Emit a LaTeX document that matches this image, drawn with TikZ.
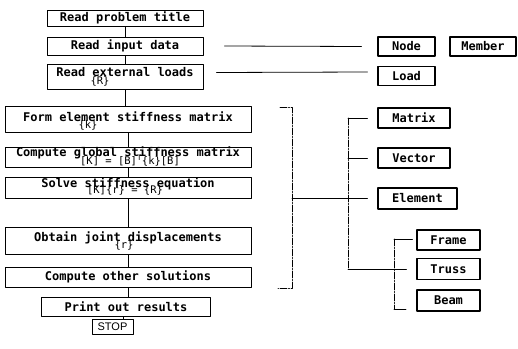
\documentclass[tikz,border=0pt]{standalone}
\usepackage{fontspec}
\setmonofont{DejaVu Sans Mono}
\newfontfamily\stopfont{Liberation Sans}
\usetikzlibrary{positioning}

\begin{document}
\begin{tikzpicture}[x=1pt, y=-1pt, line cap=round, line join=round, font=\ttfamily\bfseries\fontsize{12}{14}\selectfont, line width=0.8pt]
	\tikzset{box/.style={draw, inner xsep=0pt, inner ysep=0pt},
		tall/.style 2 args={text height=#1, text depth=#2},
		frm/.style={inner sep=0pt, font=\ttfamily\fontsize{10.5}{11}\selectfont},
		item/.style={draw, line width=1.1pt, inner sep=0pt, minimum height=19},
		dd/.style={dash pattern=on 7pt off 1.5pt on 1pt off 1.5pt}}
	\useasboundingbox (0,0) rectangle (518,348);
	% main flow
	\node[box, minimum width=156, minimum height=16] (title) at (125,18) {Read problem title};
	\node[box, minimum width=156, minimum height=18] (input) at (125,46) {Read input data};
	\node[box, minimum width=156, tall={12.5}{12.5}] (loads) at (125,76.5) {Read external loads};
	\node[box, minimum width=246, tall={15.5}{10.5}] (elstiff) at (128,119) {Form element stiffness matrix};
	\node[box, minimum width=246, tall={9.5}{10.5}] (glstiff) at (128,157) {Compute global stiffness matrix};
	\node[box, minimum width=246, tall={10.5}{10.5}] (solve) at (128,187.5) {Solve stiffness equation};
	\node[box, minimum width=246, tall={14.5}{12.5}] (disp) at (128,240.5) {Obtain joint displacements};
	\node[box, minimum width=246, minimum height=20] (other) at (128,277) {Compute other solutions};
	\node[box, minimum width=169, minimum height=19] (print) at (126,306.5) {Print out results};
	\node[box, minimum width=41, minimum height=15, font=\stopfont\fontsize{11}{12}\selectfont] (stop) at (112.5,326.5) {STOP};
	% vectors and matrices
	\node[frm] at (100,81) {\{R\}};
	\node[frm] at (88,125) {\{k\}};
	\node[frm] at (130,160.5) {[K] = [B]\textsuperscript{T}\{k\}[B]};
	\node[frm] at (125,190.5) {[K]\{r\} = \{R\}};
	\node[frm] at (124,245.5) {\{r\}};
	\foreach \a/\b in {title/input, input/loads, loads/elstiff, elstiff/glstiff, glstiff/solve, solve/disp, disp/other, other/print}
		\draw (\a.south) -- (\a.south |- \b.north);
	\draw (stop.north -| 123,0) -- (123,0 |- print.south);
	% data and classes
	\node[item, minimum width=57] (node) at (406.5,46.5) {Node};
	\node[item, minimum width=66] (member) at (483,46.5) {Member};
	\node[item, minimum width=57] (load) at (406.5,76) {Load};
	\node[item, minimum width=72, minimum height=20] (mtx) at (414,118) {Matrix};
	\node[item, minimum width=72, minimum height=20] (vec) at (414,158) {Vector};
	\node[item, minimum width=79, minimum height=21] (elem) at (417.5,198.5) {Element};
	\node[item, minimum width=63, minimum height=20] (frame) at (448.5,240) {Frame};
	\node[item, minimum width=63, minimum height=21] (truss) at (448.5,269) {Truss};
	\node[item, minimum width=63, minimum height=21] (beam) at (448.5,300.5) {Beam};
	\draw ([xshift=21pt]input.east) -- ([xshift=-16pt]node.west);
	\draw ([xshift=13pt, yshift=4pt]loads.east) -- ([xshift=-10pt, yshift=4pt]load.west);
	\coordinate (btop) at (280,107);
	\coordinate (bbot) at (278,288);
	\draw[dd] (btop) -| (292,288) -- (bbot);
	\coordinate (ttop) at (348,118);
	\coordinate (tbot) at (348,269);
	\draw[dd] (ttop) -- (tbot);
	\draw (ttop) -- ([xshift=-10pt]mtx.west);
	\draw (348,0 |- vec.west) -- ([xshift=-10pt]vec.west);
	\draw (292,0 |- elem.west) -- ([xshift=-10pt]elem.west);
	\draw (tbot) -- ([xshift=-10pt]truss.west);
	\coordinate (stop1) at (394,239);
	\coordinate (stop2) at (394,309);
	\draw[dd] (stop1) -- (stop2);
	\draw (stop1) -- ([xshift=-4pt]frame.west |- stop1);
	\draw (stop2) -- (406,309);
\end{tikzpicture}
\end{document}
